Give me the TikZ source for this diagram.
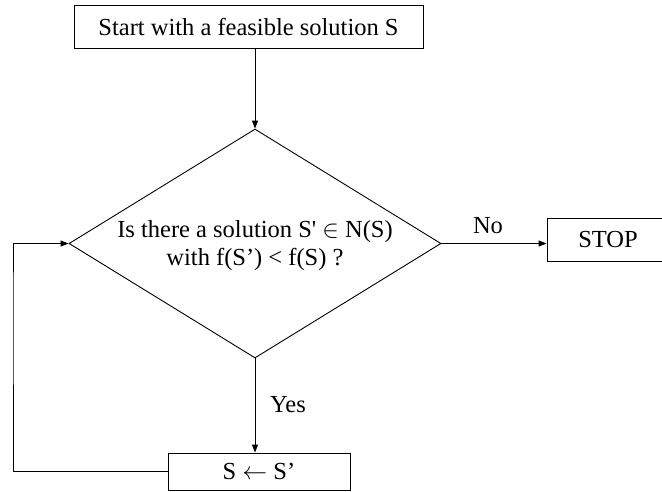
\documentclass[tikz,border=0pt]{standalone}
\usepackage{fontspec}
\setmainfont{Liberation Serif}
\usetikzlibrary{shapes.geometric,arrows.meta}
\begin{document}
\begin{tikzpicture}[x=1pt,y=-1pt,
  every node/.style={font=\fontsize{24.5}{28}\selectfont},
  box/.style={draw, line width=0.9pt, inner sep=0pt, align=center},
  decision/.style={diamond, draw, line width=0.9pt, inner sep=0pt},
  link/.style={draw, line width=0.9pt},
  arr/.style={link, -{Triangle[length=8pt,width=6pt]}}]
\useasboundingbox (0,0) rectangle (662,491);

% boxes of the flow chart
\node[box, minimum width=349pt, minimum height=43pt] (start) at (248.5,26.5)
  {Start with a feasible solution S};
\node[decision, minimum width=372pt, minimum height=229pt, aspect=1.624] (dec) at (255,243.5) {};
\node[align=center] (q) at (255,246)
  {Is there a solution S\textquotesingle\ $\in$ N(S)\\ with f(S’) < f(S) ?};
\node[box, minimum width=134pt, minimum height=43pt] (stop) at (614,240) {};
\node (stoptxt) at (608,240) {STOP};
\node[box, minimum width=182pt, minimum height=37pt] (upd) at (259,471.5) {S $\leftarrow$ S’};

% branch labels
\node (nolab) at (488,226) {No};
\node (yeslab) at (288,405) {Yes};

% corner of the feedback loop
\coordinate (loop) at (13,300);

% connectors
\draw[arr] (start.south -| dec.north) -- (dec.north);
\draw[arr] (dec.east) -- (dec.east -| stop.west);
\draw[arr] (dec.south) -- (upd.north -| dec.south);
\draw[arr] (upd.west) -| (loop) |- (dec.west);
\end{tikzpicture}
\end{document}
